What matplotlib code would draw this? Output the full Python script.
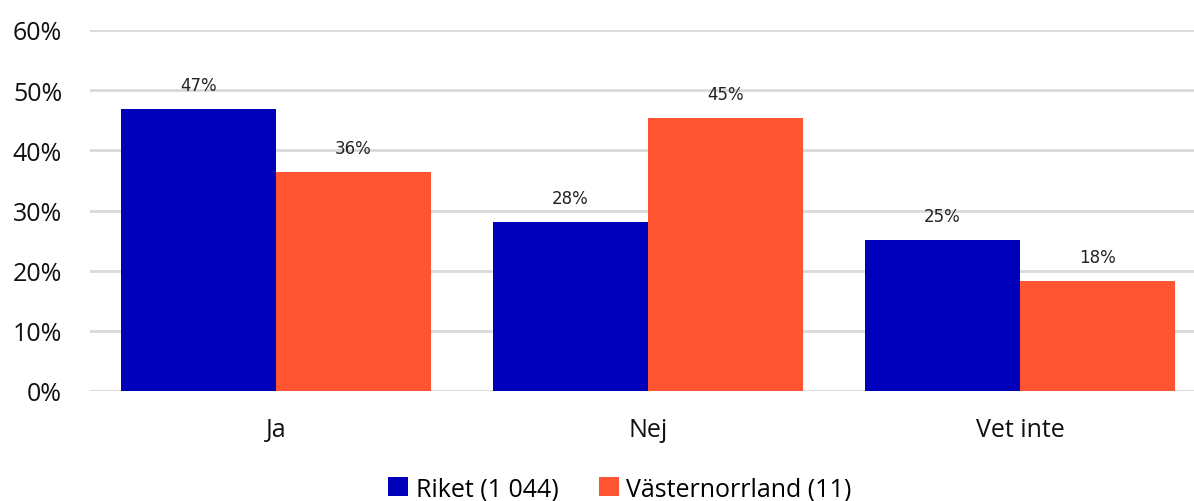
import numpy as np
import matplotlib.pyplot as plt
from matplotlib.ticker import FuncFormatter

categories = ['Ja', 'Nej', 'Vet inte']
riket = [46.8, 28.1, 25.1]
vasternorrland = [36.4, 45.4, 18.2]
series_names = ['Riket (1 044)', 'Västernorrland (11)']

plt.rcParams['font.family'] = ['Open Sans', 'DejaVu Sans']

fig = plt.figure(figsize=(11.94, 5.02), dpi=100)
ax = fig.add_axes([90 / 1194, 110 / 502, 1 - 90 / 1194, 361 / 502])

x = np.arange(len(categories))
w = 155 / 372
b1 = ax.bar(x - w / 2, riket, w, color='#0000BB', label=series_names[0], zorder=3)
b2 = ax.bar(x + w / 2, vasternorrland, w, color='#FF5533', label=series_names[1], zorder=3)

for bars in (b1, b2):
    for bar in bars:
        h = bar.get_height()
        ax.annotate(f'{h:.0f}%', (bar.get_x() + bar.get_width() / 2, h),
                    xytext=(0, 11), textcoords='offset points',
                    ha='center', va='bottom', fontsize=12, family='DejaVu Sans', color='#222222')

ax.set_xlim(-0.5, 2.468)
ax.set_ylim(0, 60)
ax.set_yticks(range(0, 61, 10))
ax.yaxis.set_major_formatter(FuncFormatter(lambda v, p: f'{v:.0f}%'))
ax.set_xticks(x)
ax.set_xticklabels(categories)
ax.tick_params(axis='both', length=0, labelsize=18, colors='#111111')
ax.tick_params(axis='x', pad=19)
ax.tick_params(axis='y', pad=20)
ax.grid(axis='y', color='#D9D9D9', linewidth=2, zorder=0)
ax.set_axisbelow(True)
for s in ax.spines.values():
    s.set_visible(False)

fig.legend(loc='center', bbox_to_anchor=(620 / 1194, 1 - 490 / 502), ncol=2,
           frameon=False, fontsize=18, handlelength=0.8, handleheight=0.8,
           handletextpad=0.3, columnspacing=1.6)

plt.savefig('out.png')
plt.close()
